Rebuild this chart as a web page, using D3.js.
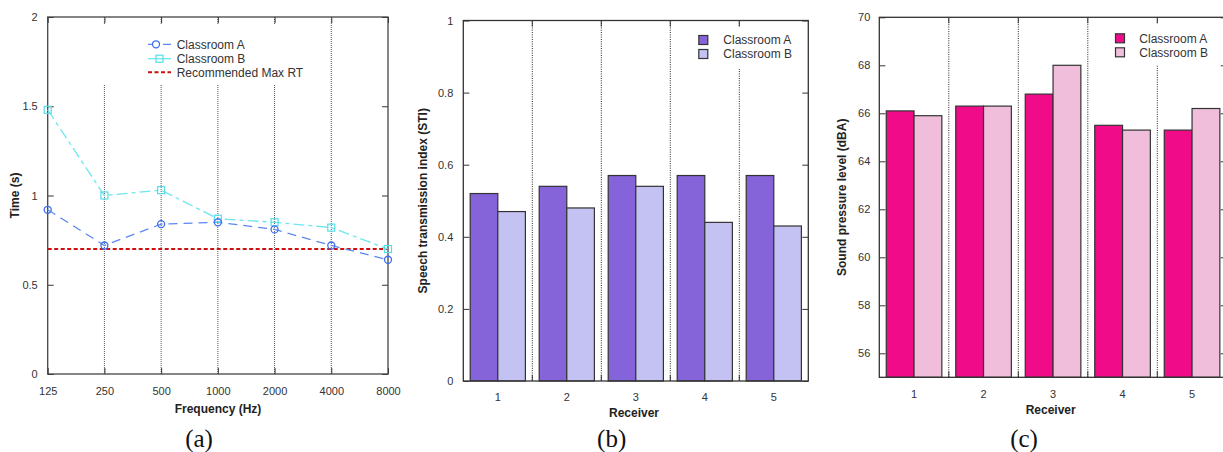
<!DOCTYPE html>
<html>
<head>
<meta charset="utf-8">
<script src="https://cdn.jsdelivr.net/npm/d3@7"></script>
<style>
  body { margin: 0; background: #fff; }
  svg { display: block; font-family: "Liberation Sans", Arial, sans-serif; }
  .tick text { font-size: 11px; fill: #333; }
  .axis-title { font-size: 12px; font-weight: bold; fill: #222; }
  .legend text { font-size: 12px; fill: #333; }
  .caption { font-family: "Liberation Serif", "Times New Roman", serif; font-size: 25px; fill: #111; }
</style>
</head>
<body>
<svg width="1223" height="452"></svg>
<script>
// ---- panel (a): reverberation time
var frequencies = ["125", "250", "500", "1000", "2000", "4000", "8000"];
var rtClassA = [0.92, 0.72, 0.84, 0.85, 0.81, 0.72, 0.64];
var rtClassB = [1.48, 1.00, 1.03, 0.87, 0.85, 0.82, 0.70];
var rtRecommended = 0.7;
var rtTicks = [0, 0.5, 1, 1.5, 2];

// ---- panel (b): STI
var receivers = ["1", "2", "3", "4", "5"];
var stiClassA = [0.52, 0.54, 0.57, 0.57, 0.57];
var stiClassB = [0.47, 0.48, 0.54, 0.44, 0.43];
var stiTicks = [0, 0.2, 0.4, 0.6, 0.8, 1];

// ---- panel (c): SPL
var splClassA = [66.1, 66.3, 66.8, 65.5, 65.3];
var splClassB = [65.9, 66.3, 68.0, 65.3, 66.2];
var splTicks = [56, 58, 60, 62, 64, 66, 68, 70];

var seriesNames = ["Classroom A", "Classroom B"];

var svg = d3.select("svg");

// ================= panel (a) =================
var pa = { left: 47.7, right: 388, top: 17, bottom: 374 };

var xA = d3.scalePoint()
  .domain(frequencies)
  .range([pa.left, pa.right]);

var yA = d3.scaleLinear()
  .domain([0, 2])
  .range([pa.bottom, pa.top]);

var gA = svg.append("g");

// dotted grid at inner frequencies
gA.selectAll("line.grid")
  .data(frequencies.slice(1, -1))
  .enter()
  .append("line")
  .attr("class", "grid")
  .attr("x1", function(d){ return xA(d); })
  .attr("x2", function(d){ return xA(d); })
  .attr("y1", pa.top)
  .attr("y2", pa.bottom)
  .attr("stroke", "#555")
  .attr("stroke-dasharray", "1,1");

// legend background hides the grid
gA.append("rect")
  .attr("x", 100).attr("y", 25)
  .attr("width", 200).attr("height", 59)
  .attr("fill", "#fff");

gA.append("g")
  .attr("transform", "translate(" + pa.left + ",0)")
  .call(d3.axisLeft(yA).tickValues(rtTicks).tickSize(-6).tickPadding(10).tickFormat(d3.format("")))
  .call(function(g){ g.select(".domain").remove(); });

gA.append("g")
  .attr("transform", "translate(" + pa.right + ",0)")
  .call(d3.axisRight(yA).tickValues(rtTicks).tickSize(-6).tickFormat(""))
  .call(function(g){ g.select(".domain").remove(); });

gA.append("g")
  .attr("transform", "translate(0," + pa.bottom + ")")
  .call(d3.axisBottom(xA).tickSize(-6).tickPadding(13))
  .call(function(g){ g.select(".domain").remove(); });

gA.append("g")
  .attr("transform", "translate(0," + pa.top + ")")
  .call(d3.axisTop(xA).tickSize(-6).tickFormat(""))
  .call(function(g){ g.select(".domain").remove(); });

gA.selectAll(".tick line").attr("stroke", "#333");

gA.append("rect")
  .attr("x", pa.left).attr("y", pa.top)
  .attr("width", pa.right - pa.left).attr("height", pa.bottom - pa.top)
  .attr("fill", "none").attr("stroke", "#444").attr("stroke-width", 1.3);

// recommended max RT
gA.append("line")
  .attr("x1", pa.left).attr("x2", pa.right)
  .attr("y1", yA(rtRecommended)).attr("y2", yA(rtRecommended))
  .attr("stroke", "#cc1111").attr("stroke-width", 2)
  .attr("stroke-dasharray", "4,2.5");

var lineA = d3.line()
  .x(function(d, i){ return xA(frequencies[i]); })
  .y(function(d){ return yA(d); });

gA.append("path")
  .datum(rtClassB)
  .attr("d", lineA)
  .attr("fill", "none").attr("stroke", "#6ee6ee").attr("stroke-width", 1.3)
  .attr("stroke-dasharray", "11,4,4,4");

gA.append("path")
  .datum(rtClassA)
  .attr("d", lineA)
  .attr("fill", "none").attr("stroke", "#5a88f0").attr("stroke-width", 1.3)
  .attr("stroke-dasharray", "9,6");

gA.selectAll("rect.mkB")
  .data(rtClassB)
  .enter()
  .append("rect")
  .attr("class", "mkB")
  .attr("x", function(d, i){ return xA(frequencies[i]) - 3.5; })
  .attr("y", function(d){ return yA(d) - 3.5; })
  .attr("width", 7).attr("height", 7)
  .attr("fill", "none").attr("stroke", "#55dde8").attr("stroke-width", 1.2);

gA.selectAll("circle.mkA")
  .data(rtClassA)
  .enter()
  .append("circle")
  .attr("class", "mkA")
  .attr("cx", function(d, i){ return xA(frequencies[i]); })
  .attr("cy", function(d){ return yA(d); })
  .attr("r", 3.5)
  .attr("fill", "none").attr("stroke", "#3d6ef0").attr("stroke-width", 1.3);

// legend (a)
var legA = gA.append("g").attr("class", "legend");
var legAItems = [
  { label: seriesNames[0], y: 44.3, color: "#5a88f0", dash: "9,6", mark: "circle" },
  { label: seriesNames[1], y: 58.7, color: "#6ee6ee", dash: "", mark: "square" },
  { label: "Recommended Max RT", y: 72.3, color: "#cc1111", dash: "4,2.5", mark: "none" }
];
legAItems.forEach(function(it){
  legA.append("line")
    .attr("x1", 148).attr("x2", 171)
    .attr("y1", it.y).attr("y2", it.y)
    .attr("stroke", it.color)
    .attr("stroke-width", it.mark == "none" ? 2 : 1.3)
    .attr("stroke-dasharray", it.dash);
  if (it.mark == "circle") {
    legA.append("circle").attr("cx", 156).attr("cy", it.y).attr("r", 3.5)
      .attr("fill", "#fff").attr("stroke", "#3d6ef0").attr("stroke-width", 1.3);
  } else if (it.mark == "square") {
    legA.append("rect").attr("x", 156).attr("y", it.y - 3.5).attr("width", 7).attr("height", 7)
      .attr("fill", "none").attr("stroke", "#55dde8").attr("stroke-width", 1.2);
  }
  legA.append("text")
    .attr("x", 176.7).attr("y", it.y + 4.2)
    .text(it.label);
});

gA.append("text")
  .attr("class", "axis-title")
  .attr("transform", "translate(19," + ((pa.top + pa.bottom) / 2) + ") rotate(-90)")
  .attr("text-anchor", "middle")
  .text("Time (s)");

gA.append("text")
  .attr("class", "axis-title")
  .attr("x", 218).attr("y", 413)
  .attr("text-anchor", "middle")
  .text("Frequency (Hz)");

gA.append("text")
  .attr("class", "caption")
  .attr("x", 199).attr("y", 447)
  .attr("text-anchor", "middle")
  .text("(a)");

// ================= bar panels =================
var drawBars = function(opt){
  var p = opt.box;
  var g = svg.append("g");

  var x0 = d3.scaleBand()
    .domain(receivers)
    .range([p.left, p.right])
    .padding(0);

  var x1 = d3.scaleBand()
    .domain(seriesNames)
    .range([0, x0.bandwidth()])
    .paddingInner(0)
    .paddingOuter(0.25);

  var y = d3.scaleLinear()
    .domain(opt.domain)
    .range([p.bottom, p.top]);

  var bounds = receivers.slice(1).map(function(r){ return x0(r); });

  g.selectAll("line.grid")
    .data(bounds)
    .enter()
    .append("line")
    .attr("x1", function(d){ return d; })
    .attr("x2", function(d){ return d; })
    .attr("y1", p.top)
    .attr("y2", p.bottom)
    .attr("stroke", "#222")
    .attr("stroke-dasharray", "1,1.3");

  g.append("rect")
    .attr("x", opt.legend.bgX).attr("y", p.top + 6)
    .attr("width", opt.legend.bgW).attr("height", opt.legend.bgH)
    .attr("fill", "#fff");

  // short solid ticks at group boundaries, top and bottom
  g.selectAll("line.tb")
    .data(bounds)
    .enter()
    .append("line")
    .attr("x1", function(d){ return d; })
    .attr("x2", function(d){ return d; })
    .attr("y1", p.top).attr("y2", p.top + 6)
    .attr("stroke", "#333");
  g.selectAll("line.bb")
    .data(bounds)
    .enter()
    .append("line")
    .attr("x1", function(d){ return d; })
    .attr("x2", function(d){ return d; })
    .attr("y1", p.bottom - 6).attr("y2", p.bottom)
    .attr("stroke", "#333");

  var rows = receivers.map(function(r, i){
    return [
      { r: r, s: seriesNames[0], v: opt.a[i] },
      { r: r, s: seriesNames[1], v: opt.b[i] }
    ];
  });

  g.selectAll("g.grp")
    .data(rows)
    .enter()
    .append("g")
    .attr("transform", function(d){ return "translate(" + x0(d[0].r) + ",0)"; })
    .selectAll("rect")
    .data(function(d){ return d; })
    .enter()
    .append("rect")
    .attr("x", function(d){ return x1(d.s); })
    .attr("y", function(d){ return y(d.v); })
    .attr("width", x1.bandwidth())
    .attr("height", function(d){ return p.bottom - y(d.v); })
    .attr("fill", function(d){ return d.s == seriesNames[0] ? opt.colors[0] : opt.colors[1]; })
    .attr("stroke", "#333")
    .attr("stroke-width", 1.2);

  g.append("g")
    .attr("transform", "translate(" + p.left + ",0)")
    .call(d3.axisLeft(y).tickValues(opt.ticks).tickSize(-6).tickPadding(opt.ypad).tickFormat(d3.format("")))
    .call(function(gg){ gg.select(".domain").remove(); });

  g.append("g")
    .attr("transform", "translate(" + p.right + ",0)")
    .call(d3.axisRight(y).tickValues(opt.ticks).tickSize(-6).tickFormat(""))
    .call(function(gg){ gg.select(".domain").remove(); });

  g.append("g")
    .attr("transform", "translate(0," + p.bottom + ")")
    .call(d3.axisBottom(x0).tickSize(0).tickPadding(opt.xpad))
    .call(function(gg){ gg.select(".domain").remove(); });

  g.selectAll(".tick line").attr("stroke", "#333");

  g.append("rect")
    .attr("x", p.left).attr("y", p.top)
    .attr("width", p.right - p.left).attr("height", p.bottom - p.top)
    .attr("fill", "none").attr("stroke", "#333").attr("stroke-width", 1.3);

  var leg = g.append("g").attr("class", "legend");
  seriesNames.forEach(function(s, i){
    var cy = opt.legend.y[i];
    leg.append("rect")
      .attr("x", opt.legend.sx - 4.5).attr("y", cy - 4.5)
      .attr("width", 9).attr("height", 9)
      .attr("fill", opt.colors[i]).attr("stroke", "#333").attr("stroke-width", 1.2);
    leg.append("text")
      .attr("x", opt.legend.tx).attr("y", cy + 4.2)
      .text(s);
  });

  g.append("text")
    .attr("class", "axis-title")
    .attr("transform", "translate(" + opt.yTitleX + "," + ((p.top + p.bottom) / 2) + ") rotate(-90)")
    .attr("text-anchor", "middle")
    .text(opt.yTitle);

  g.append("text")
    .attr("class", "axis-title")
    .attr("x", opt.xTitle[0]).attr("y", opt.xTitle[1])
    .attr("text-anchor", "middle")
    .text("Receiver");

  g.append("text")
    .attr("class", "caption")
    .attr("x", opt.caption[0]).attr("y", 447)
    .attr("text-anchor", "middle")
    .text(opt.caption[1]);
};

drawBars({
  box: { left: 463.3, right: 808.3, top: 20.5, bottom: 381 },
  domain: [0, 1],
  ticks: stiTicks,
  a: stiClassA,
  b: stiClassB,
  colors: ["#8464d8", "#c4c2f2"],
  ypad: 10,
  xpad: 12,
  legend: { sx: 703.3, tx: 723.3, y: [40, 54], bgX: 694, bgW: 108, bgH: 42 },
  yTitle: "Speech transmission index (STI)",
  yTitleX: 427,
  xTitle: [634, 417],
  caption: [611.7, "(b)"]
});

drawBars({
  box: { left: 879.3, right: 1226.8, top: 17.3, bottom: 377.3 },
  domain: [55, 70],
  ticks: splTicks,
  a: splClassA,
  b: splClassB,
  colors: ["#f00c88", "#f0bedb"],
  ypad: 9,
  xpad: 12.5,
  legend: { sx: 1120, tx: 1139.3, y: [38.3, 52.3], bgX: 1110, bgW: 113, bgH: 42 },
  yTitle: "Sound pressure level (dBA)",
  yTitleX: 846,
  xTitle: [1050.7, 414],
  caption: [1024, "(c)"]
});
</script>
</body>
</html>
